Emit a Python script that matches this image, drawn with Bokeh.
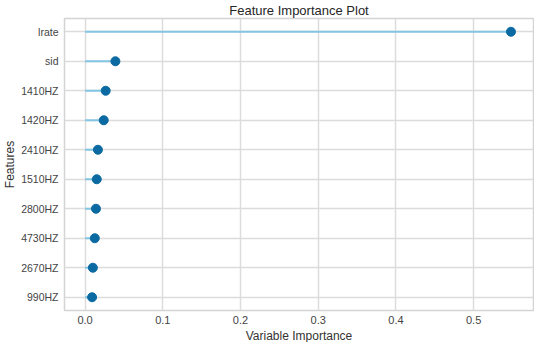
from bokeh.plotting import figure
from bokeh.models import Range1d, FixedTicker, ColumnDataSource, NumeralTickFormatter, Title
from bokeh.embed import file_html
from bokeh.resources import INLINE

features = ["lrate", "sid", "1410HZ", "1420HZ", "2410HZ", "1510HZ", "2800HZ", "4730HZ", "2670HZ", "990HZ"]
importance = [0.548, 0.039, 0.0265, 0.024, 0.0165, 0.015, 0.014, 0.0125, 0.010, 0.009]
x_ticks = [0.0, 0.1, 0.2, 0.3, 0.4, 0.5]

n = len(features)
ypos = [n - 1 - i for i in range(n)]
src = ColumnDataSource(dict(y=ypos, x=importance, x0=[0.0] * n, name=features))

FONT = "Liberation Sans"
p = figure(width=534, height=342, output_backend="svg", toolbar_location=None,
           x_range=Range1d(-0.0265, 0.577), y_range=Range1d(-0.45, n - 1 + 0.45),
           title="Feature Importance Plot",
           min_border_left=0, min_border_right=1, min_border_top=0, min_border_bottom=0)

p.title.align = "center"
p.title.text_font = FONT
p.title.text_font_size = "13px"
p.title.text_font_style = "normal"
p.title.text_color = "#262626"
p.title.standoff = 1
p.title.offset = 0

p.segment(x0="x0", y0="y", x1="x", y1="y", source=src, line_color="#82c6e3", line_width=2)
p.scatter(x="x", y="y", source=src, size=9, fill_color="#0b6aa2", line_color="#0b6aa2")

p.xaxis.ticker = FixedTicker(ticks=x_ticks)
p.xaxis.formatter = NumeralTickFormatter(format="0.0")
p.yaxis.ticker = FixedTicker(ticks=ypos)
p.yaxis.major_label_overrides = {yy: f for yy, f in zip(ypos, features)}

p.yaxis.axis_label = "Features"
for ax in (p.xaxis, p.yaxis):
    ax.axis_line_color = None
    ax.major_tick_line_color = None
    ax.minor_tick_line_color = None
    ax.major_tick_out = 0
    ax.major_tick_in = 0
    ax.major_label_text_font = FONT
    ax.major_label_text_font_size = "11px"
    ax.major_label_text_color = "#444444"
    ax.axis_label_text_font = FONT
    ax.axis_label_text_font_size = "12px"
    ax.axis_label_text_font_style = "normal"
    ax.axis_label_text_color = "#333333"
p.yaxis.major_label_text_font_size = "10.5px"
p.xaxis.major_label_standoff = 5
p.yaxis.major_label_standoff = 6
p.yaxis.axis_label_standoff = 1

p.add_layout(Title(text="Variable Importance", align="center", text_font=FONT,
                   text_font_size="12px", text_font_style="normal", text_color="#333333",
                   standoff=0, offset=0), "below")

p.xgrid.grid_line_color = "#dcdcdc"
p.ygrid.grid_line_color = "#dcdcdc"
p.xgrid.grid_line_width = 1.5
p.ygrid.grid_line_width = 1.5
p.outline_line_color = "#d4d4d4"
p.outline_line_width = 1.5
p.background_fill_color = "white"

open("out.html", "w").write(file_html(p, INLINE))
